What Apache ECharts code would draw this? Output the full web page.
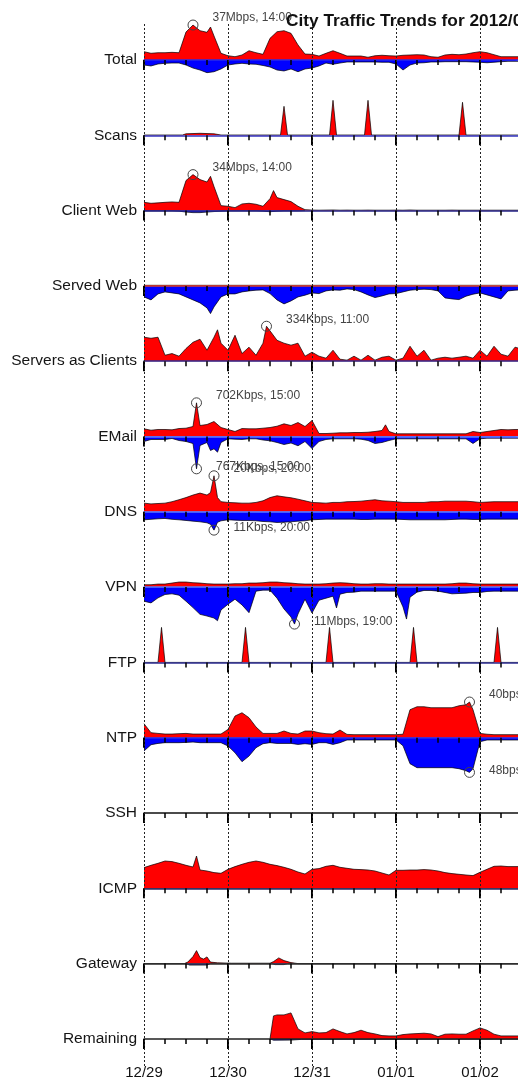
<!DOCTYPE html>
<html><head><meta charset="utf-8">
<script src="https://cdn.jsdelivr.net/npm/echarts@6/dist/echarts.min.js"></script>
<style>html,body{margin:0;padding:0;background:#fff}#c{width:518px;height:1081px}</style>
</head><body><div id="c"></div>
<script>
// ---------------- DATA ----------------
// x = hours since 12/29 00:00. Plain arrays are sampled every 2 hours;
// arrays of [hour, value] pairs are explicit samples. "*_PEAKS" are extra hourly samples.
const STEP_HOURS = 2;
const PANEL_NAMES = ['Total','Scans','Client Web','Served Web','Servers as Clients','EMail','DNS','VPN','FTP','NTP','SSH','ICMP','Gateway','Remaining'];
const DATE_LABELS = ['12/29','12/30','12/31','01/01','01/02','01/03'];
const TITLE = 'City Traffic Trends for 2012/01/03';

// Total (Mbps)
const TOTAL_IN = [8.8,7.1,7.7,7.7,8.1,7.7,29.6,37,31,29.3,25.4,7.1,
  4.5,3.5,5.3,9.8,7.7,6,22.9,29.9,31,28.2,15.9,6.3,
  6,4.2,7.1,9.8,7.1,4.2,4.2,4.2,2.9,4.5,5,4.5,
  4.2,5,5.3,5.6,5.3,3.5,2.9,5.3,6,5.6,6.3,7.7,
  8.8,7.7,5.6,3.5,3.5,3.5,3.5];
const TOTAL_IN_PEAKS = [[19,34.9]];
const TOTAL_OUT = [5.3,6.3,4.2,3.5,3.2,3.2,5.3,8.5,10.6,13.4,12.4,9.5,
  5.3,4.2,3.5,4.2,4.5,5.8,7.4,10.6,11.6,9.5,12.4,9.5,
  8.5,6.3,3.2,4.5,3.2,2.1,2.1,2.1,2.1,2.1,2.4,2.4,
  4.2,10.6,5.3,3.2,2.9,2.1,2.1,1.8,1.8,1.8,1.8,2.1,
  2.4,2.9,2.4,1.8,1.4,1.4,1.4];

// Scans (relative)
const SCANS_IN = [[0,0.3],[11,0.3],[12,1.5],[16,2],[20,1.5],[22,0.3],[39,0.3],[40,29],[41,0.3],[53,0.3],[54,35],[55,0.3],[63,0.3],[64,35],[65,0.3],[90,0.3],[91,33],[92,0.3],[110,0.3]];
const SCANS_OUT = [];

// Client Web (Mbps)
const CLIENT_WEB_IN = [7.8,6.9,7.3,7.8,8.2,7.8,28.4,34,29.3,27,22.7,4.7,
  4.1,2.8,6.3,6.9,6,4.1,11.3,12.3,10.4,8.5,4.1,0.9,
  0.5,0.4,0.5,0.6,0.4,0.5,0.4,0.4,0.5,0.4,0.4,0.4,
  0.5,0.4,0.6,0.4,0.4,0.4,0.4,0.4,0.5,0.4,0.4,0.4,
  0.4,0.4,0.4,0.4,0.4,0.4,0.4];
const CLIENT_WEB_IN_PEAKS = [[19,32.4],[37,18.9]];
const CLIENT_WEB_OUT = [0.3,0.3,0.3,0.3,0.3,0.5,1.4,1.9,1.9,1.4,0.9,0.5,
  0.3,0.3,0.3,0.3,0.3,0.5,1.1,0.5,0.3,0.3,0.3,0];

// Served Web (relative)
const SERVED_WEB_IN = [[0,0.6],[110,0.6]];
const SERVED_WEB_OUT = [11,14,8,6,7,8,11,14,17,22,21,11,
  8,8,6,5,4.3,4,7.7,14,18,15,11,9.3,
  7,7.7,5,4,4.3,3,3.7,6,9,11.7,10,8,
  7.7,6,4.3,3.7,3.3,3.7,5,12,13,13.7,10.3,8.3,
  7,9,11,13,5,4.3,4];
const SERVED_WEB_OUT_PEAKS = [[19,27.7]];

// Servers as Clients (Kbps)
const SERVERS_IN = [229,219,229,57,73,48,121,181,210,105,229,172,
  105,248,73,134,57,172,290,200,172,153,172,48,
  86,48,29,105,19,10,48,10,57,10,38,48,
  10,29,143,48,105,10,29,38,29,38,48,29,
  105,48,143,67,48,134,115];
const SERVERS_IN_PEAKS = [[21,300],[35,334]];
const SERVERS_OUT = [];

// EMail (Kbps)
const EMAIL_IN = [160,131,146,146,139,166,173,208,229,250,312,187,
  146,104,166,160,160,173,187,214,264,229,291,208,
  333,62,62,69,77,77,83,83,89,104,125,104,
  56,56,56,56,56,56,56,56,56,56,56,104,
  83,104,125,146,139,146,146];
const EMAIL_IN_PEAKS = [[15,702],[69,243]];
const EMAIL_OUT = [119,71,71,71,47,95,119,166,213,142,292,142,
  55,64,71,55,55,83,102,142,190,154,220,119,
  284,119,71,55,55,55,55,64,95,166,142,95,
  55,55,55,55,55,55,55,55,55,55,55,166,
  55,40,40,40,40,40,40];
const EMAIL_OUT_PEAKS = [[15,767],[19,332],[21,372]];

// DNS (Kbps)
const DNS_IN = [4.8,4.4,4.6,4.8,5.6,6.7,7.9,9.3,10.4,9.3,20,5.6,
  5.2,5,4.8,4.8,5.2,6.1,7.9,8.9,8.3,7.8,7,6.1,
  5.2,5,4.8,5.2,5.2,5.6,5.7,5.9,6.3,6.7,6.1,5.9,
  5.6,5.2,5.2,5.2,5.2,5.6,5.6,5.9,5.9,5.9,5.9,5.6,
  5.2,5.4,5.6,5.6,5.6,5.6,5.6];
const DNS_IN_PEAKS = [[19,10.7],[21,7.9]];
const DNS_OUT = [4.8,4.5,4.2,4,4.5,4.8,5.2,5.6,6,6.6,11,5.4,
  4.8,5,5.2,5.2,5.4,5.8,6,6.4,6.2,6,5.6,5.4,
  4.8,4.6,4.4,4.4,4.4,4.4,4.4,4.6,4.6,4.4,4.4,4.4,
  4.4,4.6,4.8,4.8,4.8,4.8,4.8,4.8,4.6,4.4,4.4,4.6,
  4.6,4.4,4.4,4.4,4.4,4.4,4.4];
const DNS_OUT_PEAKS = [[19,7.5],[21,6.3]];

// VPN (Mbps)
const VPN_IN = [0.7,0.7,0.9,0.9,1.2,1.5,1.5,1.3,1.2,1.0,0.9,0.9,
  0.9,1.0,1.0,1.2,1.2,1.3,1.5,1.5,1.3,1.2,1.0,0.9,
  0.9,0.9,1.0,1.2,1.3,1.2,1.0,0.9,0.9,1.0,1.0,0.9,
  0.9,0.9,0.9,0.9,0.9,0.9,0.9,0.9,1.0,1.2,1.2,1.0,
  0.9,0.9,0.9,0.9,0.9,0.9,0.9];
const VPN_OUT = [4.2,4.7,3.2,2.2,2,2.4,4.2,6.1,8.1,8.6,9.2,6.8,
  5.1,3.6,5.3,7.6,1.2,0.9,0.9,3.3,6.5,8.9,8,3.6,
  7.7,3.9,3.3,2.7,2.1,1.6,1.5,1.2,1.2,1.2,1.2,1.2,
  1.2,5.9,3,1.5,1,1,1.2,1.6,2,1.9,1.8,1.6,
  1.6,1.3,1.2,1.2,1.2,1.2,1.2];
const VPN_OUT_PEAKS = [[21,10],[43,11],[55,6.2],[75,9.5]];

// FTP (relative)
const FTP_IN = [[0,0],[4,0],[5,35],[6,0],[28,0],[29,35],[30,0],[52,0],[53,35],[54,0],[76,0],[77,35],[78,0],[100,0],[101,35],[102,0],[110,0]];
const FTP_OUT = [];

// NTP (bps)
const NTP_IN = [15.7,5.6,4.8,4.1,4.1,4.5,4.8,4.1,4.1,4.1,4.1,4.1,
  9.3,24.3,28,22.4,12,4.8,4.8,4.8,7.5,4.8,4.1,7.5,
  7.5,5.6,4.5,4.1,8.6,3.7,3.4,3.4,3.4,3.4,3.4,3.4,
  3.4,3.9,31.4,34.7,34.7,33.6,33.6,33.6,33.6,35.8,37,31.4,
  4.8,3.9,3.4,3.4,3.4,3.4,3.4];
const NTP_IN_PEAKS = [[93,40]];
const NTP_OUT = [18.4,9.7,7.9,6.9,6.9,6.9,6.5,6,6.9,6.9,6.9,6.9,
  11.5,20.8,33.2,25.4,13.8,8.3,6.9,7.9,7.9,7.9,9.3,8.3,
  9.3,6.9,6.9,9.3,6.9,3.2,3.2,3.2,3.2,3.2,3.2,3.2,
  3.2,11.1,36,41.5,41.5,41.5,41.5,41.5,41.5,42.9,45.7,42.9,
  5.5,3.2,3.2,3.2,3.2,3.2,3.2];
const NTP_OUT_PEAKS = [[93,48]];

// SSH (relative)
const SSH_IN = [];
const SSH_OUT = [];

// ICMP (relative)
const ICMP_IN = [20.7,23,25,27.3,26.7,25,23,21.3,18.3,17.3,15.7,15,
  19,21.7,24,26,27.3,26,24,22.7,21,19,16.3,14.3,
  19,19.7,22,23,21,20,19,18.7,18.3,17.3,15.3,13.3,
  18,18,18.3,18.3,18.7,18.3,17.3,15.7,14.7,14,13.3,12.7,
  16,19,22,22.3,21.7,21.7,21.7];
const ICMP_IN_PEAKS = [[15,32.3]];
const ICMP_OUT = [[0,0.3],[110,0.3]];

// Gateway (relative)
const GATEWAY_IN = [[0,0],[11.5,0],[12.5,1.5],[14,7],[15,13],[16,6],[17,4.5],[18,6.7],[19,1.5],[21,0.8],[25,0.4],[36,0.4],[37,2],[38.5,5.7],[40,3],[42,1],[44,0],[110,0]];
const GATEWAY_OUT = [[0,0],[12,0],[13,1.5],[18,1.5],[19,0],[36.5,0],[37.5,1],[40,1],[41,0],[110,0]];

// Remaining (relative)
const REMAINING_IN = [null,null,null,null,null,null,null,null,null,null,null,null,
  null,null,null,null,null,null,0,24,24,26,10,6,
  7.3,6,6.3,10,7.3,5,6.3,8.7,6.3,5,3.3,3,
  3,4.3,5,5.3,5.7,5,2.3,4.7,5,4.7,4.7,8,
  11,8.7,4.7,3,3,3,3];
const REMAINING_IN_PEAKS = [[37,23]];
const REMAINING_OUT = [[36,0],[37,1.3],[42,1.2],[45,0.5],[110,0.4]];

// Peak annotations: [panel, direction, hour, text]
const ANNOTATIONS = [
  ['Total','in',14,'37Mbps, 14:00'],
  ['Client Web','in',14,'34Mbps, 14:00'],
  ['Servers as Clients','in',35,'334Kbps, 11:00'],
  ['EMail','in',15,'702Kbps, 15:00'],
  ['EMail','out',15,'767Kbps, 15:00'],
  ['DNS','in',20,'20Kbps, 20:00'],
  ['DNS','out',20,'11Kbps, 20:00'],
  ['VPN','out',43,'11Mbps, 19:00'],
  ['NTP','in',93,'40bps, 21:00'],
  ['NTP','out',93,'48bps, 21:00']
];

// ---------------- SCALES / STYLES ----------------
const IN_SERIES  = [TOTAL_IN, SCANS_IN, CLIENT_WEB_IN, SERVED_WEB_IN, SERVERS_IN, EMAIL_IN, DNS_IN, VPN_IN, FTP_IN, NTP_IN, SSH_IN, ICMP_IN, GATEWAY_IN, REMAINING_IN];
const IN_PEAKS   = [TOTAL_IN_PEAKS, null, CLIENT_WEB_IN_PEAKS, null, SERVERS_IN_PEAKS, EMAIL_IN_PEAKS, DNS_IN_PEAKS, null, null, NTP_IN_PEAKS, null, ICMP_IN_PEAKS, null, REMAINING_IN_PEAKS];
const OUT_SERIES = [TOTAL_OUT, SCANS_OUT, CLIENT_WEB_OUT, SERVED_WEB_OUT, SERVERS_OUT, EMAIL_OUT, DNS_OUT, VPN_OUT, FTP_OUT, NTP_OUT, SSH_OUT, ICMP_OUT, GATEWAY_OUT, REMAINING_OUT];
const OUT_PEAKS  = [null, null, null, SERVED_WEB_OUT_PEAKS, null, EMAIL_OUT_PEAKS, DNS_OUT_PEAKS, VPN_OUT_PEAKS, null, NTP_OUT_PEAKS, null, null, null, null];
const AXIS_MAX_IN  = [40.2, 38, 35.9, 38, 363, 792, 21.1, 11.3, 38, 42.6, 38, 38, 38, 38];
const AXIS_MAX_OUT = [40.2, 38, 35.9, 38, 363, 902, 22.8, 11.3, 38, 52.6, 38, 38, 38, 38];
const BASELINE_COLORS = ['#2a2ae8','#3535c0','#242488','#d84030','#2c2c90','#5a7cff','#5a7cff','#5a7cff','#2c2c90','#2a2ae8','#111','#30306a','#333','#222'];

const FONT = 'Liberation Sans, Arial, Helvetica, sans-serif';
const X_MAX = 120, FIRST_BASE = 60, PITCH = 75.3, HALF = 38, LEFT = 144, PX_PER_HOUR = 3.5;

function toPairs(arr, extra) {
  let pts;
  if (arr.length && Array.isArray(arr[0])) pts = arr.map(p => [p[0], p[1]]);
  else pts = arr.map((v, k) => [k * STEP_HOURS, v]);
  if (extra) pts = pts.concat(extra.map(p => [p[0], p[1]]));
  pts.sort((a, b) => a[0] - b[0]);
  return pts;
}

// background grid: dashed day lines + date labels
const grids = [{left: LEFT, width: X_MAX * PX_PER_HOUR, top: 24, height: 1044, outerBoundsMode: 'none', containLabel: false}];
const xAxes = [{
  type: 'value', gridIndex: 0, position: 'bottom', min: 0, max: X_MAX, interval: 24, z: 6,
  axisLine: {show: false, onZero: false}, axisTick: {show: false},
  axisLabel: {show: true, margin: -3, fontSize: 15, color: '#111', fontFamily: FONT,
    showMaxLabel: false, hideOverlap: false,
    formatter: v => DATE_LABELS[Math.round(v / 24)] || ''},
  splitLine: {show: true, lineStyle: {color: '#222', width: 1, type: [2, 2]}}
}];
const yAxes = [{type: 'value', gridIndex: 0, min: 0, max: 1, show: false}];
const series = [];

PANEL_NAMES.forEach((name, i) => {
  const base = FIRST_BASE + i * PITCH;
  const g = i + 1;
  grids.push({left: LEFT, width: X_MAX * PX_PER_HOUR, top: base - HALF, height: HALF * 2, outerBoundsMode: 'none', containLabel: false});
  xAxes.push({
    type: 'value', gridIndex: g, min: 0, max: X_MAX, interval: 24, z: 4,
    axisLine: {show: true, onZero: true, lineStyle: {color: BASELINE_COLORS[i], width: 1.5}},
    axisTick: {show: true, length: 10, lineStyle: {color: '#000', width: 2}},
    minorTick: {show: true, splitNumber: 4, length: 5, lineStyle: {color: '#000', width: 1.5}},
    splitLine: {show: false}, minorSplitLine: {show: false},
    axisLabel: {show: false}
  });
  const yInIdx = yAxes.length;
  yAxes.push({
    type: 'value', gridIndex: g, min: -AXIS_MAX_IN[i], max: AXIS_MAX_IN[i], interval: AXIS_MAX_IN[i],
    axisLine: {show: false}, axisTick: {show: false}, splitLine: {show: false},
    axisLabel: {show: true, margin: 7, fontSize: 15.5, color: '#151515', fontFamily: FONT,
      showMinLabel: false, showMaxLabel: false,
      formatter: v => (Math.abs(v) < 1e-9 ? name : '')}
  });
  const yOutIdx = yAxes.length;
  yAxes.push({type: 'value', gridIndex: g, min: -AXIS_MAX_OUT[i], max: AXIS_MAX_OUT[i], show: false});

  const inPts = toPairs(IN_SERIES[i], IN_PEAKS[i]);
  const outPts = toPairs(OUT_SERIES[i], OUT_PEAKS[i]).map(p => [p[0], p[1] == null ? null : -p[1]]);

  const mk = (dir, pts) => {
    const anns = ANNOTATIONS.filter(a => a[0] === name && a[1] === dir);
    if (!anns.length) return undefined;
    return {
      symbol: 'circle', symbolSize: 10, silent: true,
      itemStyle: {color: 'rgba(0,0,0,0)', borderColor: '#444', borderWidth: 1},
      label: {show: true, position: 'right', distance: 5, color: '#444', fontSize: 12, fontFamily: FONT,
        offset: [9, dir === 'in' ? -7 : -2]},
      data: anns.map(a => {
        const p = pts.find(q => q[0] === a[2]);
        return {coord: [a[2], p ? p[1] : 0], label: {formatter: a[3]}};
      })
    };
  };

  series.push({
    type: 'line', xAxisIndex: g, yAxisIndex: yInIdx, data: inPts, z: 2,
    symbol: 'none', showSymbol: false, connectNulls: false, animation: false,
    lineStyle: {color: '#000', width: 0.7},
    areaStyle: {color: '#ff0000', opacity: 1},
    markPoint: mk('in', inPts)
  });
  series.push({
    type: 'line', xAxisIndex: g, yAxisIndex: yOutIdx, data: outPts, z: 2,
    symbol: 'none', showSymbol: false, connectNulls: false, animation: false,
    lineStyle: {color: '#000', width: 0.7},
    areaStyle: {color: '#0000ff', opacity: 1},
    markPoint: mk('out', outPts)
  });
});

const chart = echarts.init(document.getElementById('c'), null, {renderer: 'canvas', width: 518, height: 1081});
chart.setOption({
  backgroundColor: '#fff',
  animation: false,
  title: {text: TITLE, left: 281, top: 8, z: 8,
    textStyle: {fontSize: 17.3, fontWeight: 'bold', color: '#111', fontFamily: FONT}},
  grid: grids, xAxis: xAxes, yAxis: yAxes, series: series
});
</script>
</body></html>
